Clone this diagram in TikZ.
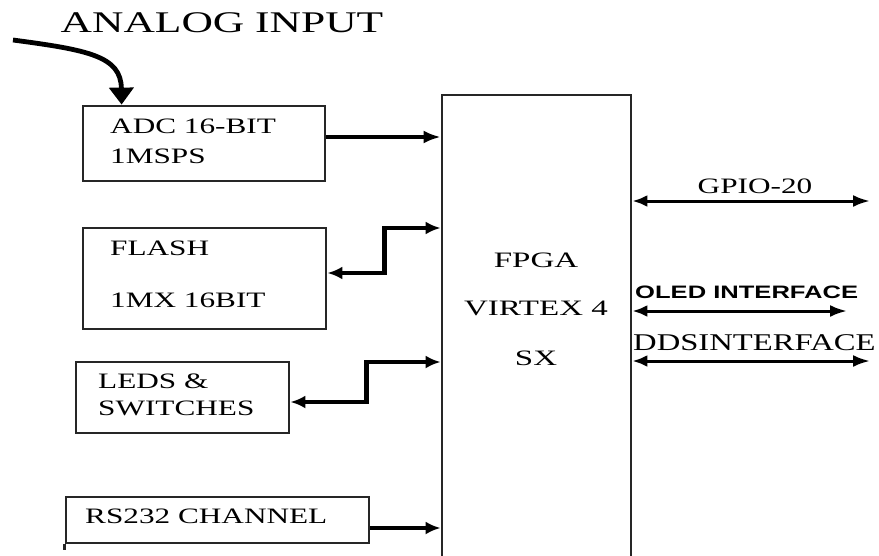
\documentclass[tikz,border=0pt]{standalone}
\usepackage{fontspec}
\usepackage{graphicx}
\setmainfont{Liberation Serif}
\setsansfont{Liberation Sans}
\usetikzlibrary{arrows.meta}
\newcommand{\wtxt}[1]{\scalebox{1.42}[1]{#1}}
\tikzset{
  blk/.style={draw=black!85,line width=2.8pt,inner sep=0pt,minimum width=#1},
  lbl/.style={anchor=base west,inner sep=0pt,font=\fontsize{22}{26}\selectfont},
  sig/.style={line width=3.2pt,-{Latex[length=17pt,width=13pt]}},
  bus/.style={line width=4.2pt,{Latex[length=15pt,width=13pt]}-{Latex[length=15pt,width=13pt]}},
  link/.style={line width=3pt,{Latex[length=15pt,width=12pt]}-{Latex[length=17pt,width=12pt]}},
}
\begin{document}
\begin{tikzpicture}[x=1pt,y=-1pt]
   \useasboundingbox (0,0) rectangle (879,555);

   \node (analog) at (222,23)
   {\fontsize{30}{32}\selectfont\scalebox{1.45}[1]{ANALOG INPUT}};
   \coordinate (analog start) at (13,40);

   % blocks round the fpga
   \node[blk=242,minimum height=75] (adc) at (204,143.5) {};
   \node[blk=243,minimum height=101] (flash) at (204.5,278.5) {};
   \node[blk=213,minimum height=71] (leds) at (182.5,397.5) {};
   \node[blk=303,minimum height=46] (rs232) at (217.5,520) {};
   \draw[black!85,line width=2.8pt] (rs232.south west) -- ++(0,6);
   \node[blk=189,minimum height=500] (fpga) at (536.5,345) {};

   \node[lbl] (adc1) at (110,133) {\wtxt{ADC 16-BIT}};
   \node[lbl] (adc2) at (110,163) {\wtxt{1MSPS}};
   \node[lbl] (flash1) at (110,255) {\wtxt{FLASH}};
   \node[lbl] (flash2) at (110,307) {\wtxt{1MX 16BIT}};
   \node[lbl] (leds1) at (98,388) {\wtxt{LEDS \&}};
   \node[lbl] (leds2) at (98,415) {\wtxt{SWITCHES}};
   \node[lbl] (rs1) at (85,523) {\wtxt{RS232 CHANNEL}};
   \node[lbl,anchor=base] (fpga1) at (536,267) {\scalebox{1.5}[1]{FPGA}};
   \node[lbl,anchor=base] (fpga2) at (536,315) {\scalebox{1.5}[1]{VIRTEX 4}};
   \node[lbl,anchor=base] (fpga3) at (536,365) {\scalebox{1.5}[1]{SX}};

   % input side
   \draw[line width=4.8pt,-{Triangle[length=17pt,width=24pt]}] (analog start)
   .. controls (88,50) and (121,56) .. ([xshift=40pt]adc.north west);
   \draw[sig] ([yshift=6.5pt]adc.east) -- (fpga.west |- 0,137);
   \draw[bus] ([yshift=5.5pt]flash.east) -- ++(57,0) |- (fpga.west |- 0,228);
   \draw[bus] ([yshift=-4.5pt]leds.east) -- ++(76,0) |- (fpga.west |- 0,362);
   \draw[line width=4.2pt,-{Latex[length=15pt,width=13pt]}]
   ([yshift=-8pt]rs232.east) -- (fpga.west |- 0,528);

   % output side
   \coordinate (gpio end) at (870,201);
   \coordinate (oled end) at (847,311);
   \coordinate (dds end) at (870,361);
   \draw[link] (fpga.east |- gpio end) -- (gpio end);
   \draw[link] (fpga.east |- oled end) -- (oled end);
   \draw[link] (fpga.east |- dds end) -- (dds end);
   \node[lbl,anchor=base] (gpio) at (755,193) {\wtxt{GPIO-20}};
   \node[lbl,anchor=base west,font=\fontsize{18}{20}\sffamily\bfseries] (oled) at (635,298)
   {\scalebox{1.42}[1]{OLED INTERFACE}};
   \node[lbl,anchor=base west,font=\fontsize{24}{26}\selectfont] (dds) at (633,350)
   {\scalebox{1.36}[1]{DDSINTERFACE}};
\end{tikzpicture}
\end{document}
